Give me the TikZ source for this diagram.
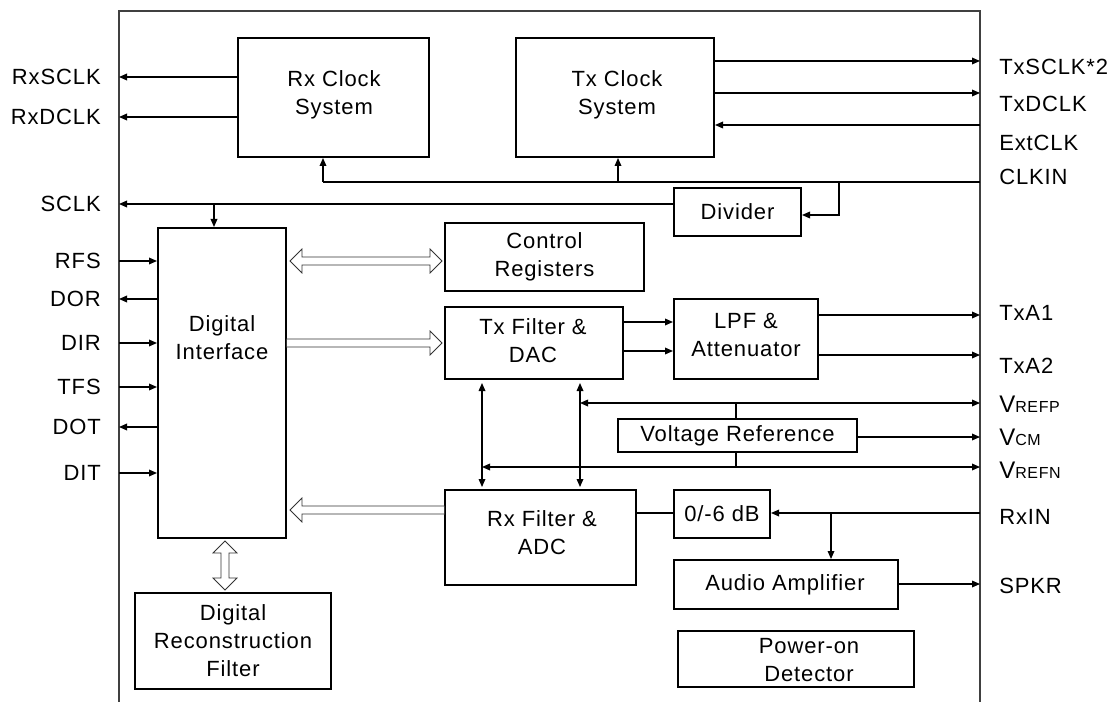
\documentclass[tikz,border=0pt]{standalone}
\usepackage{fontspec}
\setmainfont{Liberation Sans}[LetterSpace=4]
\usetikzlibrary{arrows.meta,calc,fit}

\tikzset{
  box/.style={draw, line width=1.5pt, inner sep=0pt},
  txt/.style={align=center, inner sep=0pt, font=\fontsize{16.5}{21}\selectfont},
  lbl/.style={inner sep=0pt, font=\fontsize{16.5}{20}\selectfont},
  wire/.style={line width=0.9pt},
  arr/.style={wire, -{Triangle[length=6pt,width=5pt]}},
  darr/.style={wire, {Triangle[length=6pt,width=5pt]}-{Triangle[length=6pt,width=5pt]}},
  hollow/.style={draw=black!80, line width=0.6pt, fill=white, line join=miter},
  frameline/.style={line width=0.9pt, draw=black!75},
  boxtext/.style={label={[txt]center:{#1}}},
}

\newcommand\hollowsingle[2]{%
  \path (#2) coordinate (hs-tip) ($(#2)!9pt!(#1)$) coordinate (hs-base);
  \draw[hollow] ($(#1)!3pt!90:(#2)$) -- ($(hs-base)!3pt!90:(hs-tip)$) -- ($(hs-base)!9pt!90:(hs-tip)$)
    -- (hs-tip) -- ($(hs-base)!9pt!-90:(hs-tip)$) -- ($(hs-base)!3pt!-90:(hs-tip)$)
    -- ($(#1)!3pt!-90:(#2)$) -- cycle;
}
\newcommand\hollowdouble[2]{%
  \path ($(#1)!9pt!(#2)$) coordinate (hd-a) ($(#2)!9pt!(#1)$) coordinate (hd-b);
  \draw[hollow] (#1) -- ($(hd-a)!9pt!90:(#2)$) -- ($(hd-a)!3pt!90:(#2)$) -- ($(hd-b)!3pt!90:(#2)$)
    -- ($(hd-b)!9pt!90:(#2)$) -- (#2) -- ($(hd-b)!9pt!-90:(#2)$) -- ($(hd-b)!3pt!-90:(#2)$)
    -- ($(hd-a)!3pt!-90:(#2)$) -- ($(hd-a)!9pt!-90:(#2)$) -- cycle;
}

\begin{document}
\begin{tikzpicture}[x=0.75pt,y=-0.75pt]
\useasboundingbox (0,0) rectangle (1112,702);
\draw[frameline] (119,702) -- (119,11) -- (980,11) -- (980,702);

% blocks
\node[box,fit={(238,38)(429,157)}] (rxclk) {};
\node[txt] (rxclktxt) at (334,95) {Rx Clock\\System};
\node[box,fit={(516,38)(714,157)}] (txclk) {};
\node[txt] (txclktxt) at (617,95) {Tx Clock\\System};
\node[box,fit={(674,188)(801,236)}] (div) {};
\node[txt] (divtxt) at (737.5,212) {Divider};
\node[box,fit={(158,228)(286,538)}] (di) {};
\node[txt] (ditxt) at (222,338) {Digital\\Interface};
\node[box,fit={(445,223)(644,291)}] (cr) {};
\node[txt] (crtxt) at (544.5,257) {Control\\Registers};
\node[box,fit={(445,307)(623,379)}] (txf) {};
\node[txt] (txftxt) at (533,341) {Tx Filter \&\\DAC};
\node[box,fit={(674,299)(818,379)}] (lpf) {};
\node[txt] (lpftxt) at (746,335) {LPF \&\\Attenuator};
\node[box,fit={(618,419)(857,452)}] (vref) {};
\node[txt] (vreftxt) at (737.5,435.5) {Voltage Reference};
\node[box,fit={(445,490)(636,585)}] (rxf) {};
\node[txt] (rxftxt) at (542,533) {Rx Filter \&\\ADC};
\node[box,fit={(674,490)(770,538)}] (db) {};
\node[txt] (dbtxt) at (722,514) {0/-6 dB};
\node[box,fit={(674,560)(898,609)}] (aud) {};
\node[txt] (audtxt) at (785,585) {Audio Amplifier};
\node[box,fit={(678,631)(914,687)}] (pod) {};
\node[txt] (podtxt) at (809,660) {Power-on\\Detector};
\node[box,fit={(135,593)(331,689)}] (drf) {};
\node[txt] (drftxt) at (233,641) {Digital\\Reconstruction\\Filter};

% frame points
\coordinate (fRxS) at (119,77);
\coordinate (fRxD) at (119,117);
\coordinate (fTxS) at (980,61);
\coordinate (fTxD) at (980,93);
\coordinate (fExt) at (980,125);
\coordinate (fClk) at (980,182);
\coordinate (fS) at (119,204);
\coordinate (fRFS) at (119,261);
\coordinate (fDOR) at (119,299);
\coordinate (fDIR) at (119,343);
\coordinate (fTFS) at (119,387);
\coordinate (fDOT) at (119,427);
\coordinate (fDIT) at (119,473);
\coordinate (fA1) at (980,315);
\coordinate (fA2) at (980,355);
\coordinate (fVP) at (980,403);
\coordinate (fVC) at (980,437);
\coordinate (fVN) at (980,467);
\coordinate (fRx) at (980,513);
\coordinate (fSp) at (980,584);

% clocks
\draw[arr] (rxclk.west|-fRxS) -- (fRxS);
\draw[arr] (rxclk.west|-fRxD) -- (fRxD);
\draw[arr] (txclk.east|-fTxS) -- (fTxS);
\draw[arr] (txclk.east|-fTxD) -- (fTxD);
\draw[arr] (fExt) -- (txclk.east|-fExt);
\coordinate (jRx) at (323,182);
\coordinate (jTx) at (618,182);
\coordinate (jDv) at (839,182);
\coordinate (kDv) at (839,215);
\draw[wire] (fClk) -- (jRx);
\draw[arr] (jRx) -- (jRx|-rxclk.south);
\draw[arr] (jTx) -- (jTx|-txclk.south);
\draw[arr] (jDv) -- (kDv) -- (div.east|-kDv);
\coordinate (jS) at (214,204);
\draw[arr] (div.west|-fS) -- (fS);
\draw[arr] (jS) -- (jS|-di.north);

% digital interface pins
\draw[arr] (fRFS) -- (di.west|-fRFS);
\draw[arr] (di.west|-fDOR) -- (fDOR);
\draw[arr] (fDIR) -- (di.west|-fDIR);
\draw[arr] (fTFS) -- (di.west|-fTFS);
\draw[arr] (di.west|-fDOT) -- (fDOT);
\draw[arr] (fDIT) -- (di.west|-fDIT);

% hollow buses
\coordinate (hCRa) at (290,261);
\coordinate (hCRb) at (442,261);
\hollowdouble{hCRa}{hCRb}
\coordinate (hTxa) at (286.5,343);
\coordinate (hTxb) at (442,343);
\hollowsingle{hTxa}{hTxb}
\coordinate (hRxa) at (444.5,510);
\coordinate (hRxb) at (290,510);
\hollowsingle{hRxa}{hRxb}
\coordinate (hDa) at (225,541);
\coordinate (hDb) at (225,590);
\hollowdouble{hDa}{hDb}

% tx path
\coordinate (a1) at (623,322);
\coordinate (a2) at (623,351);
\draw[arr] (txf.east|-a1) -- (lpf.west|-a1);
\draw[arr] (txf.east|-a2) -- (lpf.west|-a2);
\draw[arr] (lpf.east|-fA1) -- (fA1);
\draw[arr] (lpf.east|-fA2) -- (fA2);

% vertical links tx/rx filters
\coordinate (v1t) at (482,383);
\coordinate (v1b) at (482,487);
\coordinate (v2t) at (580,383);
\coordinate (v2b) at (580,487);
\draw[darr] (v1t) -- (v1b);
\draw[darr] (v2t) -- (v2b);

% references
\coordinate (jVP) at (580,403);
\coordinate (jVN) at (482,467);
\draw[darr] (jVP) -- (fVP);
\draw[darr] (jVN) -- (fVN);
\coordinate (sVP) at (736,403);
\coordinate (sVN) at (736,467);
\draw[wire] (sVP) -- (sVP|-vref.north);
\draw[wire] (sVN|-vref.south) -- (sVN);
\draw[arr] (vref.east|-fVC) -- (fVC);

% rx path
\draw[arr] (fRx) -- (db.east|-fRx);
\coordinate (jA) at (831,513);
\draw[arr] (jA) -- (jA|-aud.north);
\draw[wire] (db.west|-fRx) -- (rxf.east|-fRx);
\draw[arr] (aud.east|-fSp) -- (fSp);

% left labels
\node[lbl,anchor=east] (lRxS) at (101,77) {RxSCLK};
\node[lbl,anchor=east] (lRxD) at (101,117) {RxDCLK};
\node[lbl,anchor=east] (lS) at (101,204) {SCLK};
\node[lbl,anchor=east] (lRFS) at (101,261) {RFS};
\node[lbl,anchor=east] (lDOR) at (101,299) {DOR};
\node[lbl,anchor=east] (lDIR) at (101,343) {DIR};
\node[lbl,anchor=east] (lTFS) at (101,387) {TFS};
\node[lbl,anchor=east] (lDOT) at (101,427) {DOT};
\node[lbl,anchor=east] (lDIT) at (101,473) {DIT};

% right labels
\node[lbl,anchor=west] (lTxS) at (999,67) {TxSCLK*2};
\node[lbl,anchor=west] (lTxD) at (999,104) {TxDCLK};
\node[lbl,anchor=west] (lExt) at (999,143) {ExtCLK};
\node[lbl,anchor=west] (lClk) at (999,177) {CLKIN};
\node[lbl,anchor=west] (lA1) at (999,313) {TxA1};
\node[lbl,anchor=west] (lA2) at (999,366) {TxA2};
\node[lbl,anchor=west] (lVP) at (999,404) {{\fontsize{18}{20}\selectfont V}{\fontsize{12}{14}\selectfont REFP}};
\node[lbl,anchor=west] (lVC) at (999,437) {{\fontsize{18}{20}\selectfont V}{\fontsize{12}{14}\selectfont CM}};
\node[lbl,anchor=west] (lVN) at (999,470) {{\fontsize{18}{20}\selectfont V}{\fontsize{12}{14}\selectfont REFN}};
\node[lbl,anchor=west] (lRx) at (999,517) {RxIN};
\node[lbl,anchor=west] (lSp) at (999,586) {SPKR};
\end{tikzpicture}
\end{document}
